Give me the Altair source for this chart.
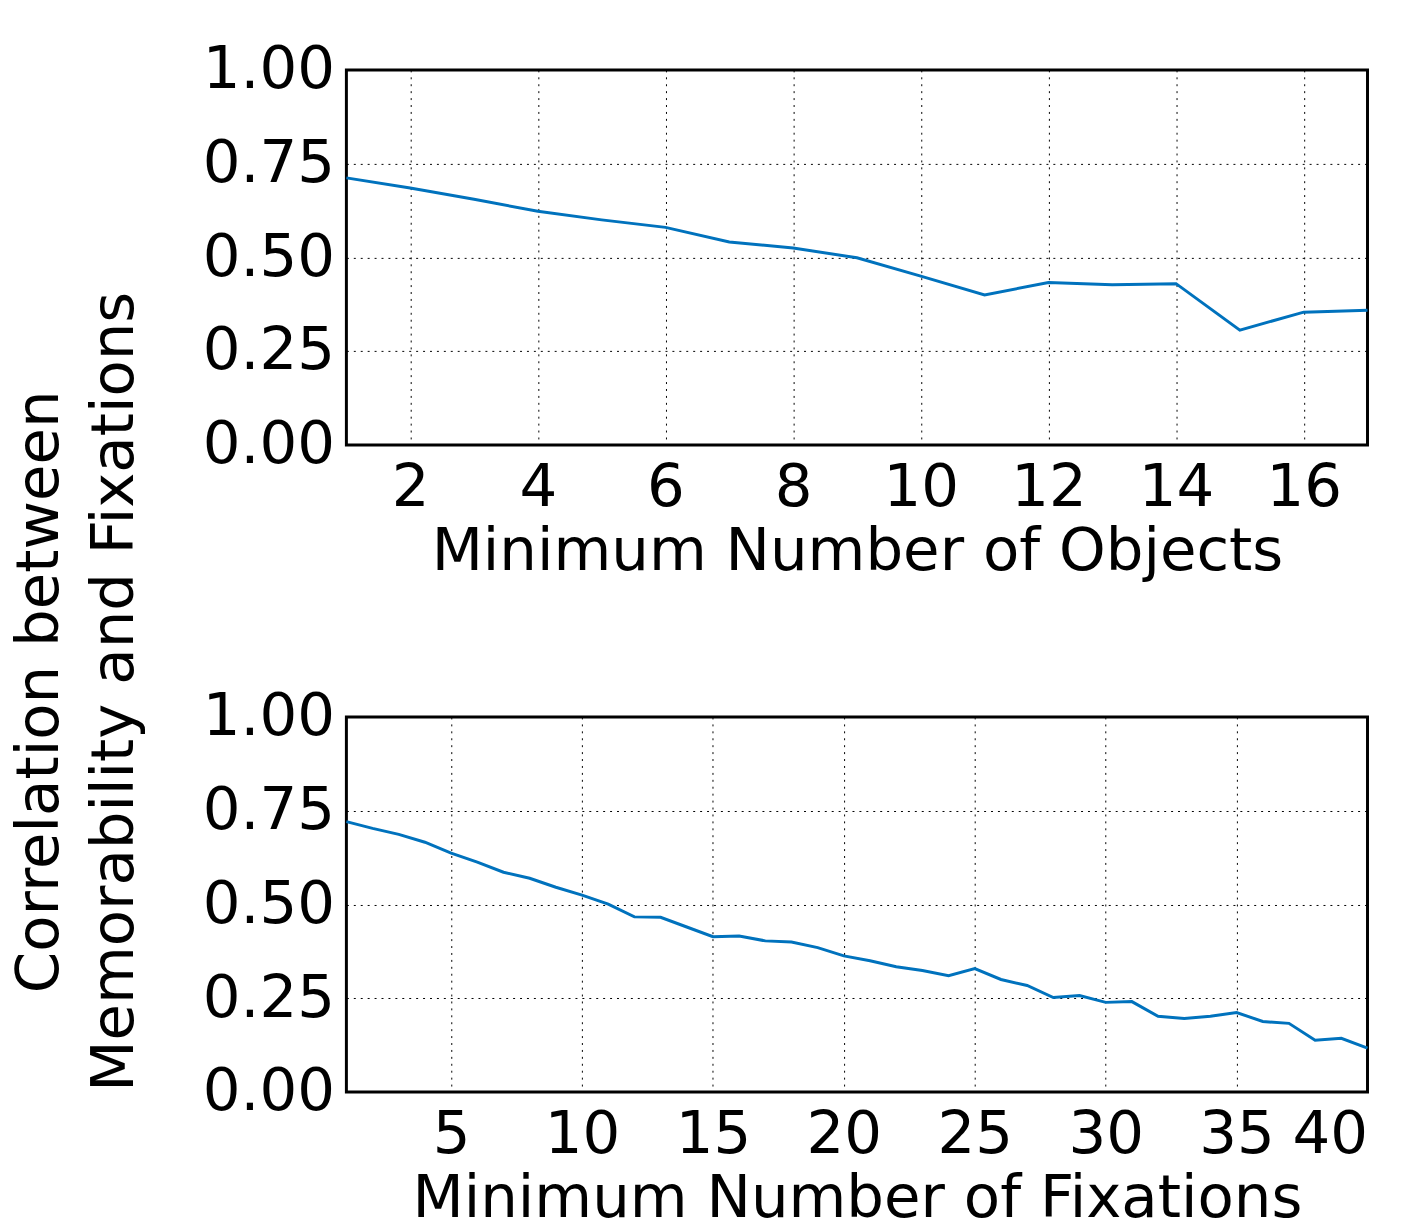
import altair as alt
import pandas as pd

obj_x = list(range(1, 18))
obj_r = [0.712, 0.685, 0.655, 0.623, 0.600, 0.580, 0.541, 0.525, 0.499, 0.450,
         0.400, 0.433, 0.427, 0.430, 0.306, 0.354, 0.359]

fix_x = list(range(1, 41))
fix_r = [0.721, 0.703, 0.687, 0.666, 0.637, 0.613, 0.586, 0.570, 0.546, 0.525,
         0.501, 0.467, 0.466, 0.440, 0.414, 0.416, 0.403, 0.400, 0.385, 0.363,
         0.350, 0.334, 0.324, 0.310, 0.329, 0.300, 0.284, 0.252, 0.257, 0.239,
         0.241, 0.202, 0.196, 0.202, 0.212, 0.188, 0.183, 0.138, 0.143, 0.117]

FONT = "DejaVu Sans"
W, H = 1032, 379
GRID = dict(gridDash=[2, 5], gridColor="black", gridOpacity=1, tickSize=0)


def panel(xs, ys, xmax, xtitle, tick_vals, ytitle=None):
    df = pd.DataFrame({"x": xs, "r": ys})
    yargs = dict(values=[0, 0.25, 0.5, 0.75, 1.0], format=".2f", labelPadding=12, **GRID)
    if ytitle:
        yaxis = alt.Axis(title=ytitle, titleAngle=-90, titleX=-310, titleY=628,
                         titleAlign="center", titleBaseline="middle",
                         titleLineHeight=76, **yargs)
    else:
        yaxis = alt.Axis(title=None, **yargs)
    return alt.Chart(df).mark_line(color="#0072bd", strokeWidth=3).encode(
        x=alt.X("x:Q", scale=alt.Scale(domain=[1, xmax], nice=False),
                axis=alt.Axis(values=tick_vals, title=xtitle, labelPadding=14,
                              titlePadding=6, **GRID)),
        y=alt.Y("r:Q", scale=alt.Scale(domain=[0, 1]), axis=yaxis),
    ).properties(width=W, height=H)


top = panel(obj_x, obj_r, 17, "Minimum Number of Objects", list(range(2, 17, 2)),
            ["Correlation between", "Memorability and Fixations"])
bottom = panel(fix_x, fix_r, 40, "Minimum Number of Fixations", list(range(5, 41, 5)))

chart = alt.vconcat(top, bottom, spacing=275, bounds="flush").properties(
    padding={"left": 0, "top": 24, "right": 40, "bottom": 0}
).configure_axis(
    labelFont=FONT, titleFont=FONT, labelFontSize=60, titleFontSize=60,
    titleFontWeight="normal", labelColor="black", titleColor="black",
    domain=False,
).configure_view(stroke="black", strokeWidth=3)

chart.save("out.html", embed_options={"renderer": "svg", "actions": False})
